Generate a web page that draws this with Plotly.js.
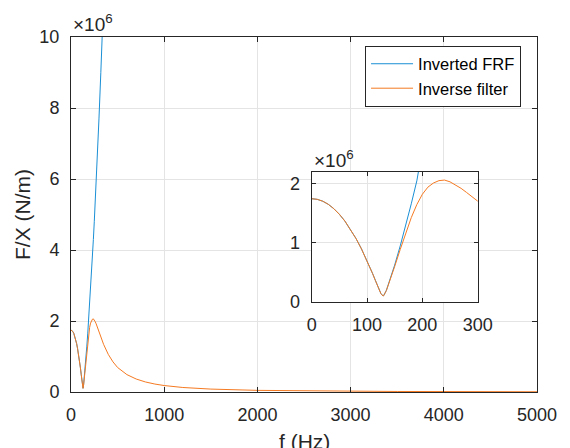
<!DOCTYPE html>
<html>
<head>
<meta charset="utf-8">
<script src="https://cdn.plot.ly/plotly-3.0.1.min.js"></script>
<style>
  html, body { margin: 0; padding: 0; background: #ffffff; }
  #chart { width: 570px; height: 448px; }
</style>
</head>
<body>
<div id="chart"></div>
<script>
// Frequency grid (Hz)
const freqHz = [0, 10, 20, 30, 40, 50, 60, 70, 80, 90, 100, 110, 115, 120, 125, 129, 130, 135, 140,
  150, 160, 170, 180, 190, 200, 210, 220, 230, 240, 250, 260, 270, 280, 290, 300, 320, 340, 350,
  400, 450, 500, 600, 700, 800, 900, 1000, 1200, 1500, 2000, 2500, 3000, 3500, 4000, 4500, 5000];

// Inverted FRF magnitude, F/X in 10^6 N/m (runs off the top of the chart after ~340 Hz)
const invertedFrf = [1.745, 1.735, 1.703, 1.651, 1.577, 1.483, 1.368, 1.231, 1.076, 0.899, 0.701,
  0.485, 0.370, 0.254, 0.147, 0.105, 0.109, 0.199, 0.330, 0.626, 0.949, 1.293, 1.659, 2.046, 2.455,
  2.884, 3.335, 3.802, 4.295, 4.809, 5.344, 5.900, 6.476, 7.074, 7.692, 8.993, 10.377, 11.10];

// Inverse filter magnitude, F/X in 10^6 N/m
const inverseFilter = [1.745, 1.735, 1.703, 1.651, 1.577, 1.483, 1.368, 1.230, 1.075, 0.897, 0.700,
  0.483, 0.368, 0.253, 0.146, 0.103, 0.108, 0.196, 0.323, 0.602, 0.889, 1.168, 1.426, 1.646, 1.820,
  1.940, 2.010, 2.050, 2.060, 2.030, 1.980, 1.920, 1.850, 1.780, 1.700, 1.550, 1.410, 1.340,
  1.060, 0.850, 0.690, 0.490, 0.365, 0.282, 0.224, 0.182, 0.127, 0.082, 0.046, 0.030, 0.021,
  0.015, 0.012, 0.009, 0.007];

// Axis ticks
const mainXTicks = [0, 1000, 2000, 3000, 4000, 5000];
const mainYTicks = [0, 2, 4, 6, 8, 10];
const insetXTicks = [0, 100, 200, 300];
const insetYTicks = [0, 1, 2];

const blue = '#1a8fd5';
const orange = '#f57a22';
const ink = '#262626';
const grid = '#e4e4e4';
const frfFreq = freqHz.slice(0, invertedFrf.length);

const traces = [
  { x: frfFreq, y: invertedFrf, name: 'Inverted FRF', type: 'scatter', mode: 'lines',
    line: { color: blue, width: 1 }, xaxis: 'x', yaxis: 'y' },
  { x: freqHz, y: inverseFilter, name: 'Inverse filter', type: 'scatter', mode: 'lines',
    line: { color: orange, width: 1 }, xaxis: 'x', yaxis: 'y' },
  { x: frfFreq, y: invertedFrf, name: 'Inverted FRF', type: 'scatter', mode: 'lines',
    line: { color: blue, width: 1 }, xaxis: 'x2', yaxis: 'y2', showlegend: false },
  { x: freqHz, y: inverseFilter, name: 'Inverse filter', type: 'scatter', mode: 'lines',
    line: { color: orange, width: 1 }, xaxis: 'x2', yaxis: 'y2', showlegend: false }
];

const axisStyle = {
  ticks: 'inside', tickcolor: ink, tickwidth: 1,
  showline: true, linecolor: ink, linewidth: 1, mirror: 'ticks',
  showgrid: true, gridcolor: grid, gridwidth: 1, zeroline: false,
  tickfont: { size: 18, color: ink }, fixedrange: true
};

const layout = {
  width: 570, height: 448,
  margin: { l: 71, r: 33, t: 37, b: 56 },
  paper_bgcolor: '#ffffff', plot_bgcolor: '#ffffff',
  font: { family: 'Liberation Sans, Arial, Helvetica, sans-serif', size: 18, color: ink },
  showlegend: true,
  xaxis: Object.assign({}, axisStyle, {
    domain: [0, 1], anchor: 'y', range: [0, 5000], tickvals: mainXTicks, ticklen: 5,
    ticklabelstandoff: 6
  }),
  yaxis: Object.assign({}, axisStyle, {
    domain: [0, 1], anchor: 'x', range: [0, 10], tickvals: mainYTicks, ticklen: 5,
    ticklabelstandoff: 7,
    title: { text: 'F/X (N/m)', font: { size: 21, color: ink }, standoff: 3 }
  }),
  xaxis2: Object.assign({}, axisStyle, {
    domain: [0.5165, 0.8727], anchor: 'y2', range: [0, 300], tickvals: insetXTicks, ticklen: 4,
    ticklabelstandoff: 6
  }),
  yaxis2: Object.assign({}, axisStyle, {
    domain: [0.2531, 0.6204], anchor: 'x2', range: [0, 2.2], tickvals: insetYTicks, ticklen: 4,
    ticklabelstandoff: 7
  }),
  legend: {
    x: 0.631, y: 0.976, xanchor: 'left', yanchor: 'top',
    bgcolor: '#ffffff', bordercolor: ink, borderwidth: 1,
    font: { size: 16.5, color: '#000000' }, tracegroupgap: 0, itemwidth: 42
  },
  annotations: [
    // x-axis title, sitting low so it runs off the bottom edge
    { text: 'f (Hz)', xref: 'paper', yref: 'paper', x: 0.5, y: 0,
      xanchor: 'center', yanchor: 'top', showarrow: false, yshift: -36,
      font: { size: 21, color: ink } },
    { text: '×10<sup>6</sup>', xref: 'paper', yref: 'paper', x: 0, y: 1,
      xanchor: 'left', yanchor: 'bottom', showarrow: false, xshift: 0, yshift: 0,
      font: { size: 19, color: ink } },
    { text: '×10<sup>6</sup>', xref: 'x2 domain', yref: 'y2 domain', x: 0, y: 1,
      xanchor: 'left', yanchor: 'bottom', showarrow: false, xshift: 0, yshift: -1,
      font: { size: 19, color: ink } }
  ]
};

Plotly.newPlot('chart', traces, layout, { displayModeBar: false, staticPlot: true }).then(() => {
  // Longer legend line samples, spanning the widened item slot
  document.querySelectorAll('.legend .legendlines path').forEach(p => p.setAttribute('d', 'M5,0h42'));
});
</script>
</body>
</html>
